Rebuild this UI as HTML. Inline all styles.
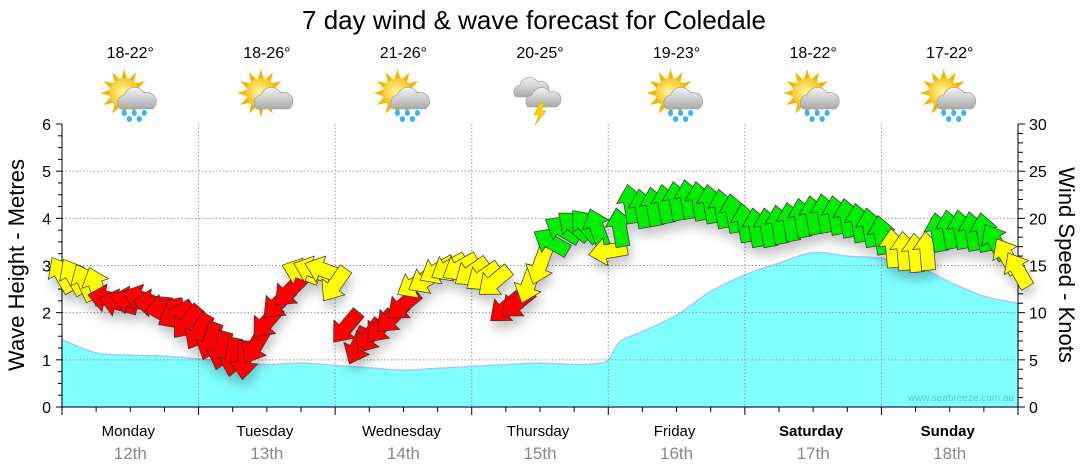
<!DOCTYPE html>
<html><head><meta charset="utf-8"><style>
html,body{margin:0;padding:0;background:#fff;}
svg{display:block;font-family:"Liberation Sans","DejaVu Sans",sans-serif;}
</style></head><body>
<svg id="chart" width="1080" height="475" viewBox="0 0 1080 475" xmlns="http://www.w3.org/2000/svg">
<defs>
<filter id="sh" x="-50%" y="-50%" width="200%" height="200%"><feDropShadow dx="2" dy="8" stdDeviation="5" flood-color="#000" flood-opacity="0.22"/></filter>
<radialGradient id="sun" cx="0.45" cy="0.45" r="0.6"><stop offset="0" stop-color="#fff7a0"/><stop offset="1" stop-color="#f5b800"/></radialGradient>
<linearGradient id="cloud" x1="0" y1="0" x2="0" y2="1"><stop offset="0" stop-color="#f4f4f4"/><stop offset="1" stop-color="#a9a9a9"/></linearGradient>
</defs>
<text x="534" y="29" font-size="26" text-anchor="middle" fill="#000">7 day wind &amp; wave forecast for Coledale</text>
<g id="plot"></g>
</svg>
<script>
const days = ["Monday","Tuesday","Wednesday","Thursday","Friday","Saturday","Sunday"];
const dates = ["12th","13th","14th","15th","16th","17th","18th"];
const temps = ["18-22°","18-26°","21-26°","20-25°","19-23°","18-22°","17-22°"];
const icons = ["rain","cloud","rain","storm","rain","rain","rain"];
const waveHours = [0,6,12,18,24,30,36,42,48,54,60,66,72,78,84,90,94,96,98,102,108,114,120,126,132,138,144,150,156,162,168];
const waveHeights = [1.43,1.15,1.1,1.08,1.02,0.95,0.9,0.93,0.88,0.83,0.78,0.82,0.86,0.9,0.93,0.9,0.92,1.0,1.38,1.6,1.95,2.45,2.8,3.05,3.27,3.2,3.15,3.0,2.65,2.35,2.2];
const windSpeeds = [14,13.8,13.2,12.8,11.5,11,11.3,11.5,11,10.5,9.8,9,8,7,6,5.3,5,6.5,9,11,12.3,14.3,14.5,14.5,13,8.5,6.5,7.5,8.5,9.5,10.8,13,13.5,14.5,14.8,14.8,14.3,13.8,13.3,10.5,11,13,15,17.5,18.8,19.2,19.2,19,16.5,19,21.5,21,21.2,21.5,21.8,22,21.8,21.5,21,20.5,19.5,19,19,19.3,19.6,20,20.3,20.5,20.3,20,19.5,19,18.2,16.8,16.5,16.3,16.5,18.5,18.8,18.8,18.6,18.5,17.5,16,14.5];
const windDirs = [-120,-120,-115,-110,190,195,190,200,185,170,150,130,120,110,105,100,95,120,130,135,135,200,200,200,125,130,115,125,130,135,140,150,150,150,150,150,145,145,140,140,140,110,110,-150,-150,-140,-130,-110,170,-100,-100,-100,-100,-100,-100,-100,-100,-100,-100,-100,-100,-100,-100,-100,-100,-100,-100,-100,-100,-100,-100,-100,-100,-95,-95,-95,-95,-100,-100,-100,-100,-100,-120,-120,-120];
const leftTicks = [0,1,2,3,4,5,6];
const rightTicks = [0,5,10,15,20,25,30];

const NS="http://www.w3.org/2000/svg";
const plot=document.getElementById('plot');
const X0=62,X1=1018,Y0=407,Y1=124;
const xh=h=>X0+(X1-X0)*h/168;
const ym=m=>Y0-(Y0-Y1)*m/6;
const yk=k=>Y0-(Y0-Y1)*k/30;
function mk(tag,attrs,parent){const e=document.createElementNS(NS,tag);for(const k in attrs)e.setAttribute(k,attrs[k]);(parent||plot).appendChild(e);return e;}

// wave area (smoothed)
const pts=waveHours.map((h,i)=>[xh(h),ym(waveHeights[i])]);
let d=`M${X0},${Y0} L${pts[0][0]},${pts[0][1]}`;
for(let i=0;i<pts.length-1;i++){
 const p0=pts[Math.max(0,i-1)],p1=pts[i],p2=pts[i+1],p3=pts[Math.min(pts.length-1,i+2)];
 const t=0.18;
 d+=` C${(p1[0]+(p2[0]-p0[0])*t).toFixed(1)},${(p1[1]+(p2[1]-p0[1])*t).toFixed(1)} ${(p2[0]-(p3[0]-p1[0])*t).toFixed(1)},${(p2[1]-(p3[1]-p1[1])*t).toFixed(1)} ${p2[0].toFixed(1)},${p2[1].toFixed(1)}`;
}
d+=` L${X1},${Y0} Z`;
const area=mk('path',{d:d,fill:'#80ffff',stroke:'#a8c8ff','stroke-width':1.5});



// grid
for(let m=1;m<=5;m++){const g=mk('line',{x1:X0,x2:X1,y1:ym(m),y2:ym(m),stroke:'#999','stroke-dasharray':'1.5,2','stroke-width':1});

}
for(let i=1;i<7;i++){const g=mk('line',{x1:xh(i*24),x2:xh(i*24),y1:Y1,y2:Y0,stroke:'#999','stroke-dasharray':'1.5,2','stroke-width':1});

}

const wm=mk('text',{x:1014,y:401,'font-size':10,'text-anchor':'end',fill:'#55cccc'});
wm.textContent='www.seabreeze.com.au';



const la=mk('line',{x1:X0,x2:X0,y1:Y1,y2:Y0+5,stroke:'#000'});


const ra=mk('line',{x1:X1,x2:X1,y1:Y1,y2:Y0,stroke:'#000'});


const ba=mk('line',{x1:X0,x2:X1,y1:Y0,y2:Y0,stroke:'#003'});


for(let q=0;q<=24;q++){const y=ym(q/4);mk('line',{x1:X0-(q%4?4:6),x2:X0,y1:y,y2:y,stroke:'#000'});}
leftTicks.forEach(v=>{const t=mk('text',{x:51,y:ym(v)+6,'font-size':16,'text-anchor':'end',fill:'#000'});t.textContent=v;

});
for(let k=0;k<=30;k++){const y=yk(k);mk('line',{x1:X1,x2:X1+(k%5?5:7),y1:y,y2:y,stroke:'#000'});}
rightTicks.forEach(v=>{const t=mk('text',{x:1029,y:yk(v)+6,'font-size':16,fill:'#000'});t.textContent=v;

});
for(let h=0;h<=168;h+=6){const x=xh(h);mk('line',{x1:x,x2:x,y1:Y0,y2:Y0+(h%24?5:8),stroke:'#000'});}

const lt=mk('text',{x:0,y:0,'font-size':22,'text-anchor':'middle',fill:'#000',transform:'translate(24,265) rotate(-90)'});
lt.textContent='Wave Height - Metres';


const rt=mk('text',{x:0,y:0,'font-size':22,'text-anchor':'middle',fill:'#000',transform:'translate(1059,265) rotate(90)'});
rt.textContent='Wind Speed - Knots';



days.forEach((dn,i)=>{const cx=xh(i*24+12);
const t=mk('text',{x:cx-2,y:436,'font-size':15,'text-anchor':'middle',fill:'#000','font-weight':i>=5?'bold':'normal'});t.textContent=dn;


const t2=mk('text',{x:cx,y:459,'font-size':17,'text-anchor':'middle',fill:'#888'});t2.textContent=dates[i];


const t3=mk('text',{x:cx,y:58,'font-size':16,'text-anchor':'middle',fill:'#000'});t3.textContent=temps[i];


const g=mk('g',{transform:`translate(${cx},97)`});


const ic=icons[i];
if(ic!=='storm'){
 for(let r=0;r<12;r++){const a=r*30*Math.PI/180;mk('polygon',{points:`${-6+Math.cos(a)*14-Math.sin(a)*3},${-4+Math.sin(a)*14+Math.cos(a)*3} ${-6+Math.cos(a)*24},${-4+Math.sin(a)*24} ${-6+Math.cos(a)*14+Math.sin(a)*3},${-4+Math.sin(a)*14-Math.cos(a)*3}`,fill:'#f5b400'},g);}
 mk('circle',{cx:-6,cy:-4,r:15,fill:'url(#sun)'},g);
 mk('path',{d:'M-10,12 a8,8 0 0 1 4,-14 a11,11 0 0 1 20,-2 a9,9 0 0 1 8,16 Z',fill:'url(#cloud)',stroke:'#999','stroke-width':0.6},g);
 if(ic==='rain'){[[-6,16],[4,16],[14,16],[-1,22],[9,22]].forEach(p=>mk('ellipse',{cx:p[0],cy:p[1],rx:2.6,ry:3,fill:'#3ab0ff'},g));}
}else{
 mk('path',{d:'M-24,0 a7,7 0 0 1 4,-12 a10,10 0 0 1 18,-3 a8,8 0 0 1 6,15 Z',fill:'url(#cloud)',stroke:'#999','stroke-width':0.6},g);
 mk('path',{d:'M-12,10 a7,7 0 0 1 4,-12 a10,10 0 0 1 18,-3 a8,8 0 0 1 6,15 Z',fill:'url(#cloud)',stroke:'#999','stroke-width':0.6},g);
 mk('polygon',{points:'0,6 -6,18 -1,18 -5,28 6,14 1,14 5,6',fill:'#ffd000',stroke:'#c90','stroke-width':0.5},g);
}
});

const ag=mk('g',{filter:'url(#sh)'});


windSpeeds.forEach((s,i)=>{
 const h=i*2;const col=s<12.4?'#ff0000':(s<17.2?'#ffff00':'#00ee00');
 const a=mk('polygon',{points:'-19,-7 3,-7 3,-14 20,0 3,14 3,7 -19,7',fill:col,stroke:'#333','stroke-width':0.7,transform:`translate(${xh(h).toFixed(1)},${yk(s).toFixed(1)}) rotate(${windDirs[i]})`},ag);
 
 
});
</script>
</body></html>
